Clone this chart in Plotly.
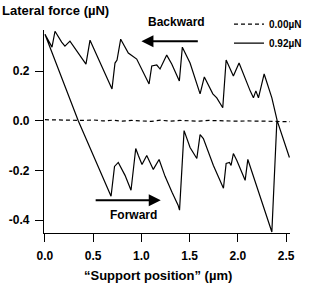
import plotly.graph_objects as go

# Backward scan (0.92 uN), left to right
backward_x = [0.0, 0.073, 0.104, 0.173, 0.207, 0.259, 0.425, 0.467, 0.622, 0.695, 0.726, 0.747,
              0.785, 0.864, 0.951, 0.985, 1.079, 1.107, 1.159, 1.193, 1.262, 1.314, 1.349, 1.393,
              1.424, 1.504, 1.608, 1.652, 1.740, 1.781, 1.843, 1.878, 1.953, 2.012, 2.127, 2.161,
              2.186, 2.213, 2.272, 2.352, 2.407, 2.534]
backward_y = [0.348, 0.296, 0.360, 0.316, 0.300, 0.320, 0.228, 0.324, 0.192, 0.128, 0.232, 0.244,
              0.328, 0.272, 0.248, 0.224, 0.148, 0.220, 0.224, 0.208, 0.264, 0.228, 0.200, 0.160,
              0.296, 0.232, 0.108, 0.176, 0.108, 0.092, 0.052, 0.244, 0.180, 0.232, 0.120, 0.092,
              0.120, 0.092, 0.188, 0.092, 0.0, -0.148]

# Forward scan (0.92 uN), left to right
forward_x = [0.0, 0.345, 0.685, 0.721, 0.760, 0.830, 0.892, 0.941, 0.968, 1.006, 1.055, 1.123,
             1.183, 1.245, 1.317, 1.380, 1.395, 1.442, 1.504, 1.574, 1.608, 1.642, 1.746, 1.850,
             1.878, 1.912, 1.929, 1.953, 1.989, 2.023, 2.075, 2.103, 2.352, 2.404]
forward_y = [0.348, 0.0, -0.304, -0.184, -0.168, -0.220, -0.280, -0.112, -0.140, -0.176, -0.140, -0.196,
             -0.156, -0.224, -0.288, -0.340, -0.360, -0.040, -0.108, -0.152, -0.056, -0.072, -0.180, -0.272,
             -0.172, -0.168, -0.180, -0.132, -0.160, -0.192, -0.240, -0.156, -0.448, 0.0]

# 0.00 uN load
zero_x = [0.0, 0.1, 0.2, 0.3, 0.4, 0.5, 0.6, 0.7, 0.8, 0.9, 1.0, 1.1, 1.2, 1.3,
          1.4, 1.5, 1.6, 1.7, 1.8, 1.9, 2.0, 2.1, 2.2, 2.3, 2.4, 2.5, 2.54]
zero_y = [0.004, 0.003, 0.005, 0.002, 0.001, 0.003, -0.001, 0.002, -0.002, 0.001, 0.0, -0.003,
          0.002, -0.002, 0.001, 0.0, -0.002, 0.001, -0.001, 0.0, -0.002, -0.001, -0.003, -0.002,
          -0.003, -0.004, -0.004]

x_ticks = [0.0, 0.5, 1.0, 1.5, 2.0, 2.5]
y_ticks = [-0.4, -0.2, 0.0, 0.2]

loop_x = backward_x[::-1] + forward_x[1:]
loop_y = backward_y[::-1] + forward_y[1:]

FONT = "Arial, Liberation Sans, sans-serif"

fig = go.Figure()
fig.add_trace(go.Scatter(x=zero_x, y=zero_y, mode="lines", name="<b>0.00µN</b>",
                         line=dict(color="black", width=1.2, dash="4px,3px")))
fig.add_trace(go.Scatter(x=loop_x, y=loop_y, mode="lines", name="<b>0.92µN</b>",
                         line=dict(color="black", width=1.2)))

fig.update_layout(
    width=311, height=284,
    margin=dict(l=44, r=21, t=30, b=51, autoexpand=False),
    paper_bgcolor="white", plot_bgcolor="white",
    font=dict(family=FONT, size=12, color="black"),
    showlegend=True,
    legend=dict(x=0.752, y=1.1, xanchor="left", yanchor="top",
                font=dict(size=10, family=FONT), bgcolor="rgba(0,0,0,0)",
                itemwidth=30, tracegroupgap=0),
    xaxis=dict(range=[-0.01, 2.54], tickvals=x_ticks,
               ticktext=[f"<b>{v:.1f}</b>" for v in x_ticks],
               showline=True, linecolor="black", linewidth=1.2,
               ticks="outside", ticklen=8, tickwidth=1.2, tickcolor="black",
               ticklabelstandoff=3,
               showgrid=False, zeroline=False, tickfont=dict(size=12)),
    yaxis=dict(range=[-0.452, 0.365], tickvals=y_ticks,
               ticktext=[f"<b>{v:.1f}</b>" for v in y_ticks],
               showline=True, linecolor="black", linewidth=1.2,
               ticks="outside", ticklen=8, tickwidth=1.2, tickcolor="black",
               ticklabelstandoff=3,
               showgrid=False, zeroline=False, tickfont=dict(size=12)),
)

fig.add_annotation(text="<b>Lateral force (µN)</b>", xref="paper", yref="paper",
                   x=-0.18, y=1.0985, xanchor="left", yanchor="middle", showarrow=False,
                   font=dict(size=13, family=FONT))
fig.add_annotation(text="<b>“Support position” (µm)</b>", xref="paper", yref="paper",
                   x=0.465, y=-0.207, xanchor="center", yanchor="middle", showarrow=False,
                   font=dict(size=13, family=FONT))

fig.add_annotation(text="<b>Backward</b>", x=0.537, y=1.039, xref="paper", yref="paper",
                   xanchor="center", yanchor="middle",
                   showarrow=False, font=dict(size=12, family=FONT))
fig.add_annotation(text="", x=1.0, y=0.32, ax=1.6, ay=0.32, xref="x", yref="y",
                   axref="x", ayref="y", showarrow=True, arrowhead=2, arrowsize=1.2,
                   arrowwidth=2, arrowcolor="black")
fig.add_annotation(text="<b>Forward</b>", x=0.915, y=-0.38, xref="x", yref="y",
                   showarrow=False, font=dict(size=12, family=FONT))
fig.add_annotation(text="", x=1.2, y=-0.32, ax=0.51, ay=-0.32, xref="x", yref="y",
                   axref="x", ayref="y", showarrow=True, arrowhead=2, arrowsize=1.2,
                   arrowwidth=2, arrowcolor="black")

fig.write_html("out.html")
